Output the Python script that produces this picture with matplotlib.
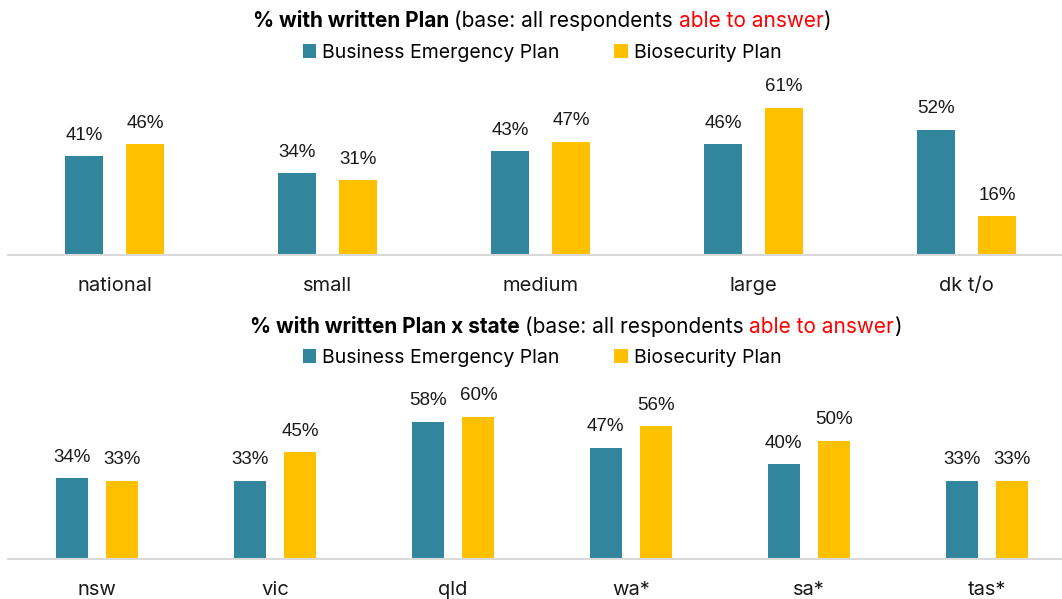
import matplotlib
matplotlib.use("Agg")
import matplotlib.pyplot as plt
from matplotlib.patches import Patch
import numpy as np

# Data
size_cats = ["national", "small", "medium", "large", "dk t/o"]
size_bep = [41, 34, 43, 46, 52]
size_bio = [46, 31, 47, 61, 16]

state_cats = ["nsw", "vic", "qld", "wa*", "sa*", "tas*"]
state_bep = [34, 33, 58, 47, 40, 33]
state_bio = [33, 45, 60, 56, 50, 33]

series_names = ["Business Emergency Plan", "Biosecurity Plan"]
TEAL = "#31859C"
GOLD = "#FFC000"
UI_FONT = "Inter"
NUM_FONT = "Liberation Sans"

W, H = 1062, 599
fig = plt.figure(figsize=(W / 100, H / 100), dpi=100)
fig.patch.set_facecolor("white")


def px_box(left, base_y, right, top_y):
    """Axes rectangle from pixel coordinates (y measured from the top)."""
    return [left / W, (H - base_y) / H, (right - left) / W, (base_y - top_y) / H]


def draw_panel(ax, cats, a, b, width, offset, ymax):
    x = np.arange(len(cats))
    ax.bar(x - offset, a, width, color=TEAL, zorder=2)
    ax.bar(x + offset, b, width, color=GOLD, zorder=2)
    for xs, vals in ((x - offset, a), (x + offset, b)):
        for xi, v in zip(xs, vals):
            ax.annotate(f"{v}%", (xi, v), xytext=(0, 9), textcoords="offset points",
                        ha="center", va="bottom", fontsize=13.5, family=NUM_FONT,
                        color="#1a1a1a")
    ax.set_xlim(-0.5, len(cats) - 0.5)
    ax.set_ylim(0, ymax)
    ax.set_xticks(x)
    ax.set_xticklabels(cats, fontsize=14.5, family=UI_FONT, color="#1a1a1a")
    ax.tick_params(axis="x", length=0, pad=16)
    ax.set_yticks([])
    for s in ("top", "left", "right"):
        ax.spines[s].set_visible(False)
    ax.spines["bottom"].set_color("#D9D9D9")
    ax.spines["bottom"].set_linewidth(1.5)
    ax.set_facecolor("none")


# Panel geometry in pixels
ax1 = fig.add_axes(px_box(8, 255, 8 + 5 * 213, 255 - 70 * 2.41))
draw_panel(ax1, size_cats, size_bep, size_bio, 0.178, 0.143, 70)

ax2 = fig.add_axes(px_box(8, 559, 8 + 6 * 178, 559 - 70 * 2.37))
draw_panel(ax2, state_cats, state_bep, state_bio, 0.18, 0.143, 70)

renderer = fig.canvas.get_renderer()


def rich_title(y_px, pieces, cx, size=15):
    """Draw a centred line made of differently styled text pieces."""
    texts = []
    for s, weight, color in pieces:
        t = fig.text(0, 1 - y_px / H, s, fontsize=size, family=UI_FONT,
                     fontweight=weight, color=color, va="center", ha="left")
        texts.append(t)
    widths = [t.get_window_extent(renderer).width for t in texts]
    total = sum(widths)
    x = cx - total / 2
    for t, w in zip(texts, widths):
        t.set_x(x / W)
        x += w


rich_title(21, [("% with written Plan ", "bold", "black"),
                ("(base: all respondents ", "normal", "black"),
                ("able to answer", "normal", "#FF0000"),
                (")", "normal", "black")], cx=542)
rich_title(327, [("% with written Plan x state ", "bold", "black"),
                 ("(base: all respondents ", "normal", "black"),
                 ("able to answer", "normal", "#FF0000"),
                 (")", "normal", "black")], cx=576)

handles = [Patch(facecolor=TEAL), Patch(facecolor=GOLD)]
for y_px in (53, 358):
    fig.legend(handles, series_names, loc="center", bbox_to_anchor=(542 / W, 1 - y_px / H),
               ncol=2, frameon=False, handlelength=0.7, handleheight=0.7,
               handletextpad=0.3, columnspacing=2.8,
               prop={"family": UI_FONT, "size": 14})

fig.savefig("out.png", dpi=100, facecolor="white")
